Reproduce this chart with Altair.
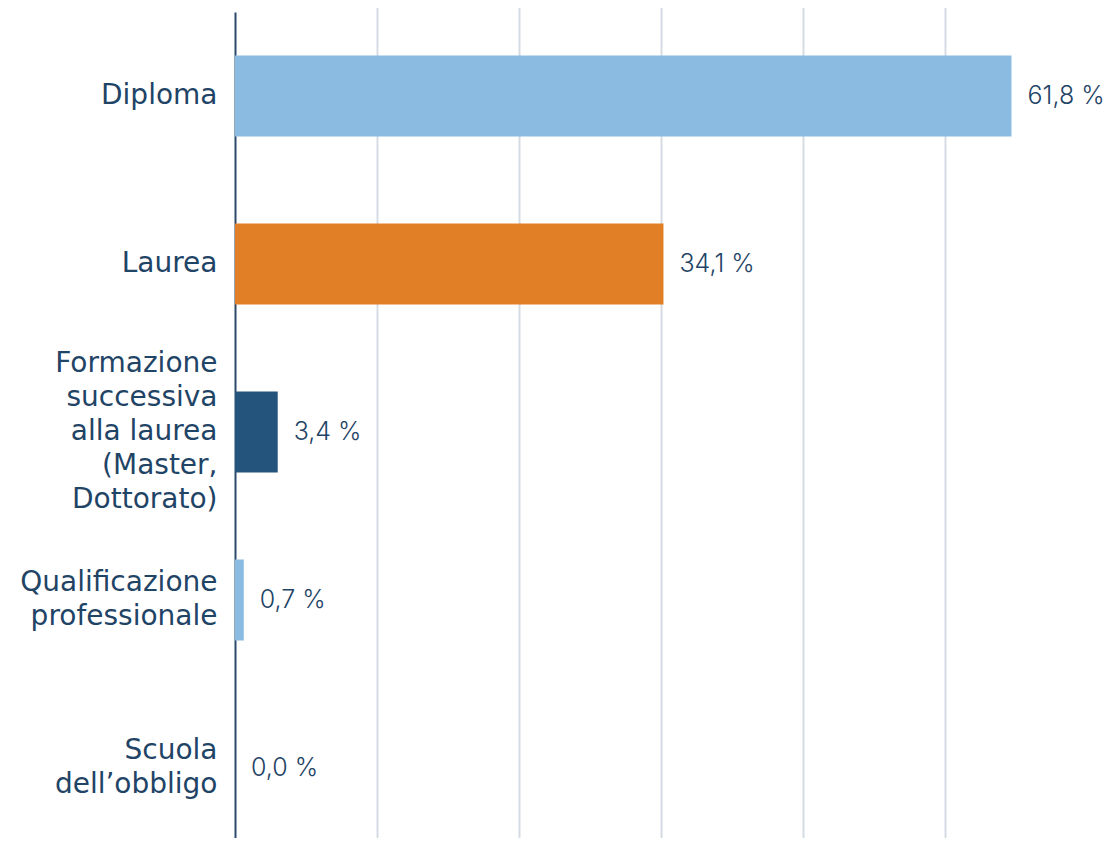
import altair as alt
import pandas as pd

categories = [
    "Diploma",
    "Laurea",
    "Formazione|successiva|alla laurea|(Master,|Dottorato)",
    "Qualificazione|professionale",
    "Scuola|dell’obbligo",
]
values = [61.8, 34.1, 3.4, 0.7, 0.0]
value_labels = ["61,8 %", "34,1 %", "3,4 %", "0,7 %", "0,0 %"]
colors = ["#8BBBE1", "#E07F25", "#24547C", "#8BBBE1", "#8BBBE1"]
grid_values = [11.3, 22.6, 33.9, 45.2, 56.5]

df = pd.DataFrame({"cat": categories, "val": values, "lab": value_labels})

TEXT = "#1F4466"
LABEL_FONT = "DejaVu Sans"
VALUE_FONT = "Inter"
LH = 34

y = alt.Y(
    "cat:N",
    sort=categories,
    scale=alt.Scale(paddingInner=0, paddingOuter=0, range=[0, 840]),
    axis=alt.Axis(
        title=None,
        labelExpr="split(datum.label, '|')",
        labelFont=LABEL_FONT,
        labelFontSize=28,
        labelFontWeight="normal",
        labelColor=TEXT,
        labelLineHeight=LH,
        labelPadding=18,
        labelLimit=400,
        ticks=False,
        domain=True,
        domainColor="#2B4A6A",
        domainWidth=2,
        grid=False,
        labelOffset={
            "condition": [
                {"test": "indexof(datum.label, 'Formazione') >= 0", "value": -2 * LH},
                {"test": "indexof(datum.label, '|') >= 0", "value": -LH / 2},
            ],
            "value": 0,
        },
    ),
)

x = alt.X(
    "val:Q",
    scale=alt.Scale(domain=[0, 69.4], nice=False, zero=True),
    axis=alt.Axis(
        title=None,
        labels=False,
        ticks=False,
        domain=False,
        grid=True,
        gridColor="#D5DBE3",
        gridWidth=2,
        values=grid_values,
    ),
)

bars = alt.Chart(df).mark_bar(size=81).encode(
    y=y,
    x=x,
    color=alt.Color(
        "cat:N", scale=alt.Scale(domain=categories, range=colors), legend=None
    ),
)

texts = alt.Chart(df).mark_text(
    align="left", baseline="middle", dx=16, font=VALUE_FONT, fontSize=25,
    fontWeight=300, color=TEXT,
).encode(y=alt.Y("cat:N", sort=categories), x="val:Q", text="lab:N")

chart = (
    alt.layer(bars, texts)
    .properties(
        width=872,
        height=826,
        autosize=alt.AutoSizeParams(type="none"),
        padding={"left": 227, "top": 4, "right": 0, "bottom": 0},
    )
    .configure_view(stroke=None)
)

chart.save("out.html", embed_options={"renderer": "svg", "actions": False})
